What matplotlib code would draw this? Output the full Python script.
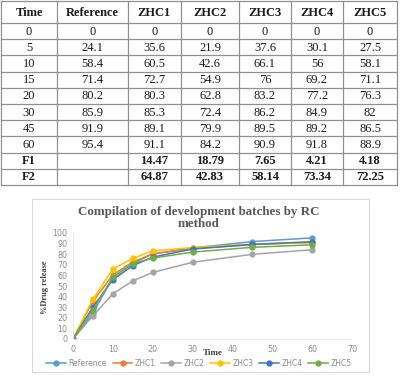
import matplotlib
matplotlib.use("Agg")
import matplotlib.pyplot as plt
from matplotlib.patches import Rectangle

# ---- data ----
time = [0, 5, 10, 15, 20, 30, 45, 60]
series_names = ["Reference", "ZHC1", "ZHC2", "ZHC3", "ZHC4", "ZHC5"]
reference = [0, 24.1, 58.4, 71.4, 80.2, 85.9, 91.9, 95.4]
zhc1 = [0, 35.6, 60.5, 72.7, 80.3, 85.3, 89.1, 91.1]
zhc2 = [0, 21.9, 42.6, 54.9, 62.8, 72.4, 79.9, 84.2]
zhc3 = [0, 37.6, 66.1, 76, 83.2, 86.2, 89.5, 90.9]
zhc4 = [0, 30.1, 56, 69.2, 77.2, 84.9, 89.2, 91.8]
zhc5 = [0, 27.5, 58.1, 71.1, 76.3, 82, 86.5, 88.9]
f1_values = ["", "14.47", "18.79", "7.65", "4.21", "4.18"]
f2_values = ["", "64.87", "42.83", "58.14", "73.34", "72.25"]
colors = ["#5B9BD5", "#ED7D31", "#A5A5A5", "#FFC000", "#4472C4", "#70AD47"]
all_series = [reference, zhc1, zhc2, zhc3, zhc4, zhc5]

W, H = 401, 376
fig = plt.figure(figsize=(W / 100, H / 100), dpi=100)

# ---- background/pixel axes for the table ----
bg = fig.add_axes([0, 0, 1, 1])
bg.set_xlim(0, W)
bg.set_ylim(H, 0)
bg.axis("off")

col_edges = [1, 57, 128, 181, 239, 291, 343, 397]
row_edges = [1, 23] + [23 + 16.2 * i for i in range(1, 11)]
grid_c = "#909090"
for x in col_edges:
    bg.plot([x, x], [row_edges[0], row_edges[-1]], color=grid_c, lw=0.9)
for y in row_edges:
    bg.plot([col_edges[0], col_edges[-1]], [y, y], color=grid_c, lw=0.9)

serif = "Liberation Serif"
header = ["Time"] + series_names
rows = []
for i, t in enumerate(time):
    rows.append([str(t)] + [("%g" % s[i]) for s in all_series])
rows.append(["F1"] + f1_values)
rows.append(["F2"] + f2_values)

def cell_center(ci, ri):
    return (col_edges[ci] + col_edges[ci + 1]) / 2, (row_edges[ri] + row_edges[ri + 1]) / 2

for ci, txt in enumerate(header):
    x, y = cell_center(ci, 0)
    bg.text(x, y + 0.5, txt, ha="center", va="center", family=serif,
            fontweight="bold", fontsize=9, color="#1a1a1a")
for ri, row in enumerate(rows):
    bold = row[0] in ("F1", "F2")
    for ci, txt in enumerate(row):
        x, y = cell_center(ci, ri + 1)
        bg.text(x, y + 0.5, txt, ha="center", va="center", family=serif,
                fontweight="bold" if bold else "normal", fontsize=9, color="#1a1a1a")

# chart frame
bg.add_patch(Rectangle((32, 199), 337, 173, facecolor="white", edgecolor="#d9d9d9", lw=0.8))

# ---- chart ----
x0, x1 = 73, 352
y0, y1 = 339, 233
ax = fig.add_axes([x0 / W, 1 - y0 / H, (x1 - x0) / W, (y0 - y1) / H])
ax.set_xlim(0, 70)
ax.set_ylim(0, 100)
ax.patch.set_alpha(0)
for name, vals, c in zip(series_names, all_series, colors):
    ax.plot(time, vals, color=c, lw=1.1, marker="o", markersize=3.5, label=name)

ax.set_xticks(range(0, 71, 10))
ax.set_yticks(range(0, 101, 10))
ax.tick_params(length=0, labelsize=5.8, labelcolor="#8c8c8c", pad=4)
for s in ["top", "right"]:
    ax.spines[s].set_visible(False)
for s in ["left", "bottom"]:
    ax.spines[s].set_color("#e6e6e6")
    ax.spines[s].set_linewidth(0.6)

fig.text(199 / W, 1 - 212 / H, "Compilation of development batches by RC",
         ha="center", va="center", family=serif, fontweight="bold",
         fontsize=9.4, color="#595959")
fig.text(199 / W, 1 - 224.5 / H, "method", ha="center", va="center",
         family=serif, fontweight="bold", fontsize=9.4, color="#595959")
fig.text(45 / W, 1 - 287 / H, "%Drug release", ha="center", va="center",
         rotation=90, family=serif, fontweight="bold", fontsize=6, color="#404040")
fig.text(213 / W, 1 - 353 / H, "Time", ha="center", va="center",
         family=serif, fontweight="bold", fontsize=6.5, color="#404040")

leg = fig.legend(loc="center", bbox_to_anchor=(199 / W, 1 - 363 / H), ncol=6,
                 frameon=False, fontsize=5.5, handlelength=2.6, columnspacing=0.75,
                 handletextpad=0.3, borderaxespad=0)
for t in leg.get_texts():
    t.set_color("#8c8c8c")

fig.savefig("out.png", dpi=100)
